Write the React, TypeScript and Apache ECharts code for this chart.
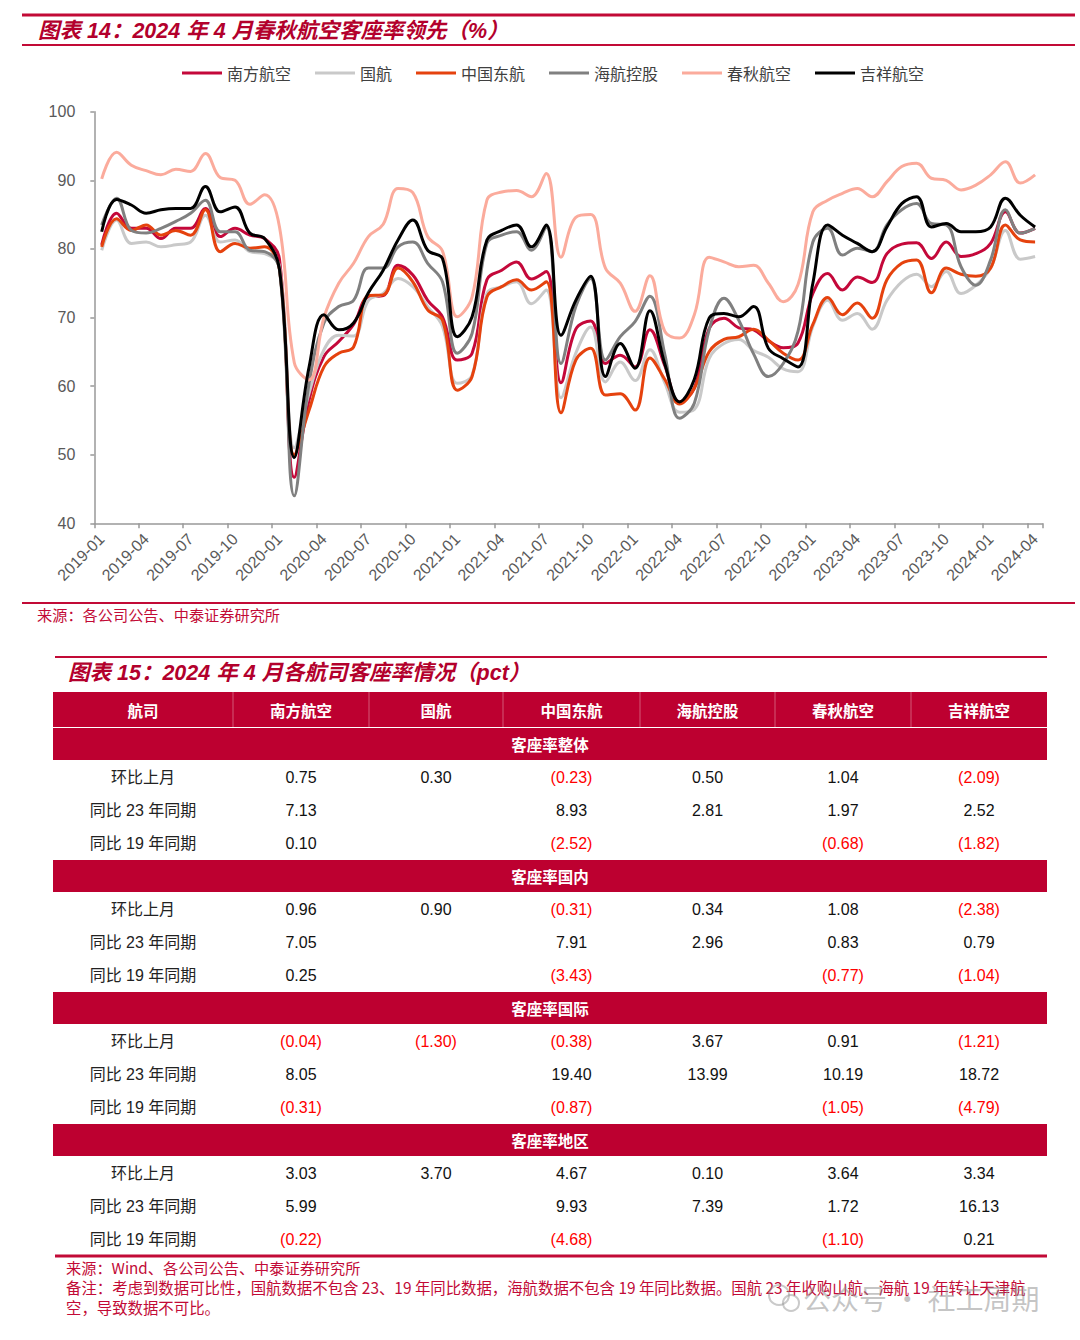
import React, { useEffect, useRef } from "react";
import * as echarts from "echarts";

// ---------- chart data ----------
const months: string[] = (() => {
  const out: string[] = [];
  for (let y = 2019; y <= 2024; y++) {
    for (let m = 1; m <= 12; m++) {
      if (y === 2024 && m > 4) break;
      out.push(`${y}-${m < 10 ? "0" + m : m}`);
    }
  }
  return out;
})();

const seriesNames = ["南方航空", "国航", "中国东航", "海航控股", "春秋航空", "吉祥航空"];
const seriesColors = ["#c4083a", "#c9c9c9", "#e5420e", "#808080", "#fbab9c", "#000000"];

const southern = [
  80.6, 85.2, 83.0, 83.0, 81.5, 83.0, 83.0, 85.9, 81.8, 83.0, 82.0, 81.5,
  78.5, 46.7, 58.0, 64.3, 66.5, 69.0, 73.0, 73.2, 77.6, 76.2, 72.5, 70.1,
  63.8, 64.8, 75.5, 76.9, 78.1, 75.6, 76.7, 60.5, 68.3, 69.5, 63.3, 64.5,
  62.8, 68.2, 63.0, 57.7, 59.7, 68.4, 69.9, 68.5, 68.2, 66.6, 65.6, 66.3,
  73.5, 76.4, 74.0, 75.9, 75.1, 79.3, 80.7, 80.9, 78.6, 81.0, 78.9, 79.3,
  80.8, 85.4, 82.3, 83.0,
];
const airChina = [
  79.8, 84.2, 80.8, 81.0, 80.3, 80.6, 81.0, 84.9, 81.0, 81.3, 79.6, 79.3,
  77.5, 51.0, 59.0, 65.3, 67.4, 67.3, 72.5, 73.5, 75.7, 74.5, 71.6, 68.7,
  60.4, 61.6, 73.5, 74.5, 75.2, 72.0, 74.0, 58.3, 64.8, 68.6, 60.6, 63.5,
  60.8, 65.3, 60.5, 56.2, 56.6, 64.0, 66.2, 66.8, 65.2, 64.2, 62.5, 62.1,
  68.7, 72.5, 69.6, 70.6, 68.3, 72.5, 75.2, 76.3, 74.5, 76.7, 73.5, 74.7,
  77.2, 82.7, 78.5, 78.9,
];
const eastern = [
  80.3, 84.4, 82.7, 83.5, 82.0, 82.7, 82.0, 85.7, 79.6, 80.8, 80.1, 80.3,
  77.0, 50.0, 56.5, 62.8, 64.8, 65.7, 73.2, 73.3, 77.2, 75.2, 71.1, 69.6,
  59.4, 61.4, 73.0, 74.5, 75.5, 74.0, 75.2, 56.1, 63.8, 65.5, 58.7, 58.9,
  56.5, 64.1, 61.0, 57.4, 59.7, 65.0, 66.8, 67.2, 68.3, 66.7, 64.8, 63.8,
  69.0, 72.9, 70.4, 72.1, 69.9, 75.5, 77.9, 78.4, 73.6, 77.2, 76.3, 76.0,
  77.2, 83.5, 81.3, 81.0,
];
const hainan = [
  83.5, 87.4, 82.7, 82.3, 83.0, 84.0, 85.2, 87.1, 82.5, 82.5, 79.8, 79.6,
  77.0, 44.0, 60.4, 69.2, 71.6, 72.5, 77.2, 77.2, 80.3, 81.0, 77.9, 75.2,
  64.8, 67.7, 80.8, 82.0, 82.5, 79.8, 83.2, 63.3, 71.6, 75.7, 63.8, 67.2,
  69.4, 73.1, 64.7, 55.3, 57.5, 68.2, 72.8, 69.6, 64.7, 61.4, 63.3, 68.0,
  81.0, 83.0, 79.1, 80.1, 79.6, 83.5, 85.7, 86.6, 83.7, 83.5, 77.4, 74.7,
  78.4, 85.7, 82.3, 83.0,
];
const springAir = [
  90.2, 94.1, 92.2, 91.4, 90.8, 91.6, 91.3, 93.9, 90.4, 90.0, 86.5, 87.9,
  83.2, 63.4, 60.9, 70.0, 75.0, 77.9, 81.8, 83.6, 88.8, 88.2, 81.8, 79.7,
  70.1, 73.0, 87.1, 88.3, 88.5, 87.6, 91.0, 78.8, 84.6, 85.0, 77.2, 75.0,
  70.9, 76.1, 68.0, 67.0, 70.4, 78.8, 78.1, 77.4, 77.6, 75.0, 72.3, 74.8,
  85.4, 87.1, 88.1, 88.8, 87.6, 89.8, 92.0, 92.5, 90.3, 90.0, 88.6, 89.3,
  90.8, 92.7, 89.6, 90.8,
];
const juneyao = [
  82.5, 87.2, 86.4, 85.2, 85.7, 85.9, 85.9, 89.1, 85.4, 86.1, 82.3, 81.5,
  77.0, 49.6, 62.8, 70.4, 68.2, 69.2, 73.6, 76.9, 81.3, 84.2, 79.8, 78.6,
  67.2, 70.1, 81.3, 82.7, 83.5, 80.3, 83.5, 67.4, 72.5, 76.0, 61.4, 66.2,
  62.6, 71.0, 63.3, 57.7, 61.0, 69.9, 70.6, 70.1, 71.6, 65.5, 64.0, 62.8,
  75.0, 83.5, 82.0, 80.8, 79.6, 83.2, 86.6, 87.6, 83.2, 83.7, 82.5, 82.5,
  83.2, 87.4, 84.9, 83.2,
];
const seriesData = [southern, airChina, eastern, hainan, springAir, juneyao];

// ---------- table data ----------
const tableHeader = ["航司", "南方航空", "国航", "中国东航", "海航控股", "春秋航空", "吉祥航空"];
const sectionTitles = ["客座率整体", "客座率国内", "客座率国际", "客座率地区"];
const rowLabels = ["环比上月", "同比 23 年同期", "同比 19 年同期"];
const loadOverall = [
  ["0.75", "0.30", "(0.23)", "0.50", "1.04", "(2.09)"],
  ["7.13", "", "8.93", "2.81", "1.97", "2.52"],
  ["0.10", "", "(2.52)", "", "(0.68)", "(1.82)"],
];
const loadDomestic = [
  ["0.96", "0.90", "(0.31)", "0.34", "1.08", "(2.38)"],
  ["7.05", "", "7.91", "2.96", "0.83", "0.79"],
  ["0.25", "", "(3.43)", "", "(0.77)", "(1.04)"],
];
const loadInternational = [
  ["(0.04)", "(1.30)", "(0.38)", "3.67", "0.91", "(1.21)"],
  ["8.05", "", "19.40", "13.99", "10.19", "18.72"],
  ["(0.31)", "", "(0.87)", "", "(1.05)", "(4.79)"],
];
const loadRegional = [
  ["3.03", "3.70", "4.67", "0.10", "3.64", "3.34"],
  ["5.99", "", "9.93", "7.39", "1.72", "16.13"],
  ["(0.22)", "", "(4.68)", "", "(1.10)", "0.21"],
];
const sectionValues = [loadOverall, loadDomestic, loadInternational, loadRegional];

const CJK = "'Noto Sans CJK SC', sans-serif";
const NUM = "'Liberation Sans', 'Noto Sans CJK SC', sans-serif";
const RED = "#c20a36";
const TITLE_RED = "#b3002c";
const TABLE_RED = "#bd0030";

function buildGraphics(): any[] {
  const g: any[] = [];
  const line = (x1: number, y1: number, x2: number, y2: number, stroke: string, lw: number) =>
    g.push({ type: "line", silent: true, shape: { x1, y1, x2, y2 }, style: { stroke, lineWidth: lw } });
  const text = (x: number, y: number, t: string, o: any) =>
    g.push({
      type: "text",
      silent: true,
      x,
      y,
      style: { text: t, verticalAlign: "middle", align: "left", fontFamily: CJK, ...o },
    });

  // Figure 14 header
  line(22, 15, 1075, 15, RED, 3);
  text(38, 31, "图表 14：2024 年 4 月春秋航空客座率领先（%）", {
    fill: TITLE_RED, fontSize: 21.5, fontWeight: "bold", fontStyle: "italic", fontFamily: NUM,
  });
  line(22, 45, 1075, 45, RED, 2);

  // source of figure 14
  line(22, 603, 1075, 603, RED, 2);
  text(37, 614, "来源：各公司公告、中泰证券研究所", { fill: RED, fontSize: 15.2 });

  // Figure 15 header
  line(55, 657, 1047, 657, RED, 2);
  text(68, 673, "图表 15：2024 年 4 月各航司客座率情况（pct）", {
    fill: TITLE_RED, fontSize: 21.5, fontWeight: "bold", fontStyle: "italic", fontFamily: NUM,
  });

  const colEdges = [53, 233, 369, 503, 640, 775, 911, 1047];
  const colCenters = colEdges.slice(0, -1).map((e, i) => (e + colEdges[i + 1]) / 2);

  // header row
  g.push({ type: "rect", silent: true, shape: { x: 53, y: 692, width: 994, height: 35 }, style: { fill: TABLE_RED } });
  for (let i = 1; i < colEdges.length - 1; i++) {
    line(colEdges[i], 692, colEdges[i], 727, "rgba(255,255,255,0.35)", 1);
  }
  tableHeader.forEach((h, i) => {
    text(colCenters[i], 710, h, { fill: "#ffffff", fontSize: 15.5, fontWeight: "bold", align: "center" });
  });

  sectionTitles.forEach((s, si) => {
    const top = 728 + si * 132;
    g.push({ type: "rect", silent: true, shape: { x: 53, y: top, width: 994, height: 32 }, style: { fill: TABLE_RED } });
    text(550, top + 16, s, { fill: "#ffffff", fontSize: 15.5, fontWeight: "bold", align: "center" });
    const vals = sectionValues[si];
    rowLabels.forEach((lab, ri) => {
      const y = top + 49 + ri * 33;
      text(colCenters[0], y, lab, { fill: "#222222", fontSize: 16, align: "center", fontFamily: NUM });
      vals[ri].forEach((v, ci) => {
        if (!v) return;
        const neg = v.startsWith("(");
        text(colCenters[ci + 1], y, v, {
          fill: neg ? "#ff0000" : "#111111", fontSize: 16, align: "center", fontFamily: NUM,
        });
      });
    });
  });

  // bottom line and notes
  line(55, 1256, 1047, 1256, RED, 3);
  text(66, 1267, "来源：Wind、各公司公告、中泰证券研究所", { fill: RED, fontSize: 15.2 });
  text(66, 1287,
    "备注：考虑到数据可比性，国航数据不包含 23、19 年同比数据，海航数据不包含 19 年同比数据。国航 23 年收购山航、海航 19 年转让天津航",
    { fill: RED, fontSize: 15.4 });
  text(66, 1307, "空，导致数据不可比。", { fill: RED, fontSize: 15.4 });

  // watermark
  g.push({ type: "circle", silent: true, shape: { cx: 779, cy: 1295, r: 10 }, style: { fill: "none", stroke: "rgba(150,150,150,0.5)", lineWidth: 2 } });
  g.push({ type: "circle", silent: true, shape: { cx: 791, cy: 1303, r: 8 }, style: { fill: "none", stroke: "rgba(150,150,150,0.5)", lineWidth: 2 } });
  text(803, 1298, "公众号 · 社工周期", { fill: "rgba(140,140,140,0.5)", fontSize: 28 });

  return g;
}

export default function App() {
  const ref = useRef<HTMLDivElement>(null);

  useEffect(() => {
    if (!ref.current) return;
    const chart = echarts.init(ref.current, undefined, { renderer: "svg" });

    chart.setOption({
      animation: false,
      backgroundColor: "#ffffff",
      legend: {
        data: seriesNames,
        left: 177,
        top: 60,
        itemWidth: 40,
        itemHeight: 3,
        itemGap: 24,
        icon: "rect",
        textStyle: { fontSize: 16, color: "#404040", fontFamily: CJK },
      },
      grid: { left: 94.3, right: 37.5, top: 111.7, bottom: 816.7, containLabel: false },
      xAxis: {
        type: "category",
        data: months,
        boundaryGap: true,
        axisLine: { lineStyle: { color: "#999999", width: 1.5 } },
        axisTick: { show: true, interval: 2, length: 5, lineStyle: { color: "#999999", width: 1.5 } },
        axisLabel: {
          interval: 2,
          rotate: 45,
          fontSize: 16,
          color: "#595959",
          fontFamily: NUM,
          margin: 13,
        },
        splitLine: { show: false },
      },
      yAxis: {
        type: "value",
        min: 40,
        max: 100,
        interval: 10,
        axisLine: { show: true, lineStyle: { color: "#999999", width: 1.5 } },
        axisTick: { show: true, length: 4, lineStyle: { color: "#999999", width: 1.5 } },
        axisLabel: { fontSize: 16, color: "#595959", fontFamily: NUM, margin: 19 },
        splitLine: { show: false },
      },
      series: seriesNames.map((name, i) => ({
        name,
        type: "line",
        data: seriesData[i],
        smooth: 0.4,
        symbol: "none",
        lineStyle: { width: 3, color: seriesColors[i] },
        itemStyle: { color: seriesColors[i] },
        z: 2 + i,
      })),
      graphic: buildGraphics(),
    });

    return () => chart.dispose();
  }, []);

  return (
    <div
      ref={ref}
      style={{ position: "absolute", left: 0, top: 0, width: 1080, height: 1340, background: "#fff" }}
    />
  );
}
